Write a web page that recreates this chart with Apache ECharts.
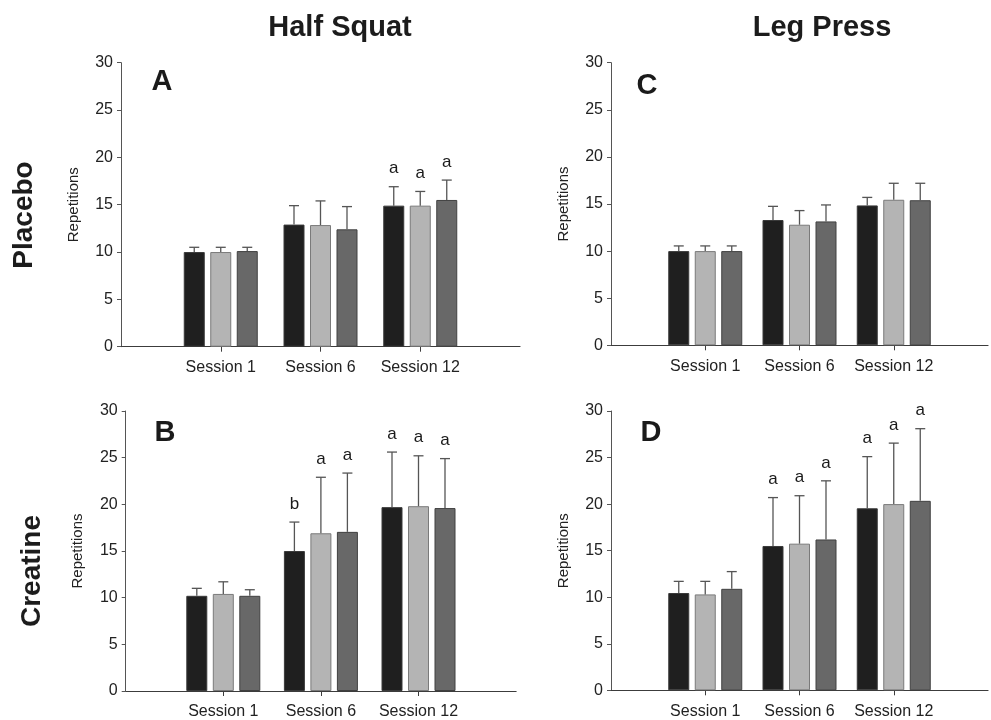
<!DOCTYPE html>
<html>
<head>
<meta charset="utf-8">
<script src="https://cdn.jsdelivr.net/npm/echarts@6/dist/echarts.min.js"></script>
<style>
  html, body { margin: 0; padding: 0; background: #ffffff; }
  #chart { width: 991px; height: 720px; }
</style>
</head>
<body>
<div id="chart"></div>
<script>
// ---------------- DATA ----------------
const sessions = ['Session 1', 'Session 6', 'Session 12'];
const yTicks = [0, 5, 10, 15, 20, 25, 30];
const exercises = ['Half Squat', 'Leg Press'];
const supplements = ['Placebo', 'Creatine'];
const panelLetters = ['A', 'B', 'C', 'D'];

// Panel A: Half Squat / Placebo  (means per group across sessions, upper error = SD)
const aMean1 = [10.0, 12.9, 14.9];
const aMean2 = [10.0, 12.85, 14.9];
const aMean3 = [10.1, 12.4, 15.5];
const aErr1 = [0.5, 2.0, 2.0];
const aErr2 = [0.5, 2.55, 1.5];
const aErr3 = [0.4, 2.4, 2.1];
const aSig1 = ['', '', 'a'];
const aSig2 = ['', '', 'a'];
const aSig3 = ['', '', 'a'];

// Panel B: Half Squat / Creatine
const bMean1 = [10.2, 15.0, 19.7];
const bMean2 = [10.4, 16.9, 19.8];
const bMean3 = [10.2, 17.05, 19.6];
const bErr1 = [0.8, 3.1, 5.9];
const bErr2 = [1.3, 6.0, 5.4];
const bErr3 = [0.65, 6.3, 5.3];
const bSig1 = ['', 'b', 'a'];
const bSig2 = ['', 'a', 'a'];
const bSig3 = ['', 'a', 'a'];

// Panel C: Leg Press / Placebo
const cMean1 = [10.0, 13.3, 14.85];
const cMean2 = [10.0, 12.8, 15.45];
const cMean3 = [10.0, 13.15, 15.4];
const cErr1 = [0.55, 1.45, 0.85];
const cErr2 = [0.55, 1.5, 1.75];
const cErr3 = [0.55, 1.75, 1.8];
const cSig1 = ['', '', ''];
const cSig2 = ['', '', ''];
const cSig3 = ['', '', ''];

// Panel D: Leg Press / Creatine
const dMean1 = [10.45, 15.5, 19.55];
const dMean2 = [10.3, 15.75, 20.0];
const dMean3 = [10.9, 16.2, 20.35];
const dErr1 = [1.25, 5.2, 5.55];
const dErr2 = [1.4, 5.15, 6.55];
const dErr3 = [1.85, 6.3, 7.75];
const dSig1 = ['', 'a', 'a'];
const dSig2 = ['', 'a', 'a'];
const dSig3 = ['', 'a', 'a'];

// ---------------- STYLE / LAYOUT ----------------
const FONT = '"Liberation Sans", Arial, Helvetica, sans-serif';
const barColors = ['#1f1f1f', '#b4b4b4', '#686868'];
const barBorders = ['#3a3a3a', '#7a7a7a', '#404040'];
const BAR_W = 21;
const BAR_GAP = 5.5;
const CAP = 5;

const panels = [
  { means: [aMean1, aMean2, aMean3], errs: [aErr1, aErr2, aErr3], sigs: [aSig1, aSig2, aSig3],
    grid: { left: 121, top: 62.7, width: 399, height: 284 } },
  { means: [bMean1, bMean2, bMean3], errs: [bErr1, bErr2, bErr3], sigs: [bSig1, bSig2, bSig3],
    grid: { left: 125.7, top: 411, width: 390.4, height: 281.3 } },
  { means: [cMean1, cMean2, cMean3], errs: [cErr1, cErr2, cErr3], sigs: [cSig1, cSig2, cSig3],
    grid: { left: 611, top: 62.7, width: 392, height: 282.6 } },
  { means: [dMean1, dMean2, dMean3], errs: [dErr1, dErr2, dErr3], sigs: [dSig1, dSig2, dSig3],
    grid: { left: 611, top: 411, width: 389.6, height: 279.3 } }
];

const axisCats = [''].concat(sessions, ['']);

const grids = [], xAxes = [], yAxes = [], series = [];
panels.forEach(function (p, pi) {
  grids.push(Object.assign({ containLabel: false }, p.grid));
  xAxes.push({
    type: 'category', gridIndex: pi, data: axisCats, boundaryGap: false,
    axisLine: { show: true, lineStyle: { color: '#3c3c3c', width: 1.2 } },
    axisTick: { show: true, inside: false, length: 5, alignWithLabel: true,
      interval: function (i) { return i >= 1 && i <= sessions.length; },
      lineStyle: { color: '#3c3c3c', width: 1 } },
    axisLabel: { interval: 0, margin: 13, color: '#222', fontFamily: FONT, fontSize: 16 },
    splitLine: { show: false }
  });
  yAxes.push({
    type: 'value', gridIndex: pi, min: yTicks[0], max: yTicks[yTicks.length - 1], interval: yTicks[1] - yTicks[0],
    name: 'Repetitions', nameLocation: 'middle', nameGap: 40,
    nameTextStyle: { color: '#222', fontFamily: FONT, fontSize: 15 },
    axisLine: { show: true, lineStyle: { color: '#555', width: 1 } },
    axisTick: { show: true, inside: false, length: 4, lineStyle: { color: '#555' } },
    axisLabel: { margin: 8, color: '#222', fontFamily: FONT, fontSize: 16 },
    splitLine: { show: false }
  });
  for (let g = 0; g < 3; g++) {
    const vals = ['-'].concat(p.means[g], ['-']);
    series.push({
      type: 'bar', xAxisIndex: pi, yAxisIndex: pi, data: vals,
      barWidth: BAR_W, barGap: (BAR_GAP / BAR_W * 100) + '%',
      itemStyle: { color: barColors[g], borderColor: barBorders[g], borderWidth: 1 },
      silent: true, animation: false
    });
  }
  for (let g = 0; g < 3; g++) {
    const offset = (g - 1) * (BAR_W + BAR_GAP);
    const means = p.means[g], errs = p.errs[g], sigs = p.sigs[g];
    const data = means.map(function (m, i) { return [i + 1, m, m + errs[i]]; });
    series.push({
      type: 'custom', xAxisIndex: pi, yAxisIndex: pi, data: data, animation: false, silent: true,
      z: 5,
      renderItem: function (params, api) {
        const x = api.value(0);
        const base = api.coord([x, api.value(1)]);
        const top = api.coord([x, api.value(2)]);
        const cx = base[0] + offset;
        const children = [
          { type: 'line', shape: { x1: cx, y1: base[1], x2: cx, y2: top[1] },
            style: { stroke: '#555', lineWidth: 1.3 } },
          { type: 'line', shape: { x1: cx - CAP, y1: top[1], x2: cx + CAP, y2: top[1] },
            style: { stroke: '#555', lineWidth: 1.3 } }
        ];
        const s = sigs[params.dataIndex];
        if (s) {
          children.push({ type: 'text', x: cx, y: top[1] - 18,
            style: { text: s, fill: '#1a1a1a', font: '17px ' + FONT, textAlign: 'center', textVerticalAlign: 'middle' } });
        }
        return { type: 'group', children: children };
      }
    });
  }
});

const graphics = [
  { type: 'text', x: 340, y: 28, style: { text: exercises[0], font: 'bold 29px ' + FONT, fill: '#1c1c1c', textAlign: 'center', textVerticalAlign: 'middle' } },
  { type: 'text', x: 822, y: 28, style: { text: exercises[1], font: 'bold 29px ' + FONT, fill: '#1c1c1c', textAlign: 'center', textVerticalAlign: 'middle' } },
  { type: 'text', x: 24, y: 215, rotation: Math.PI / 2, style: { text: supplements[0], font: 'bold 28px ' + FONT, fill: '#1c1c1c', textAlign: 'center', textVerticalAlign: 'middle' } },
  { type: 'text', x: 32, y: 571, rotation: Math.PI / 2, style: { text: supplements[1], font: 'bold 28px ' + FONT, fill: '#1c1c1c', textAlign: 'center', textVerticalAlign: 'middle' } },
  { type: 'text', x: 162, y: 82, style: { text: panelLetters[0], font: 'bold 29px ' + FONT, fill: '#1a1a1a', textAlign: 'center', textVerticalAlign: 'middle' } },
  { type: 'text', x: 165, y: 433, style: { text: panelLetters[1], font: 'bold 29px ' + FONT, fill: '#1a1a1a', textAlign: 'center', textVerticalAlign: 'middle' } },
  { type: 'text', x: 647, y: 86, style: { text: panelLetters[2], font: 'bold 29px ' + FONT, fill: '#1a1a1a', textAlign: 'center', textVerticalAlign: 'middle' } },
  { type: 'text', x: 651, y: 433, style: { text: panelLetters[3], font: 'bold 29px ' + FONT, fill: '#1a1a1a', textAlign: 'center', textVerticalAlign: 'middle' } }
];

const chart = echarts.init(document.getElementById('chart'), null, { renderer: 'canvas' });
chart.setOption({
  backgroundColor: '#ffffff',
  animation: false,
  grid: grids,
  xAxis: xAxes,
  yAxis: yAxes,
  series: series,
  graphic: graphics
});
</script>
</body>
</html>
